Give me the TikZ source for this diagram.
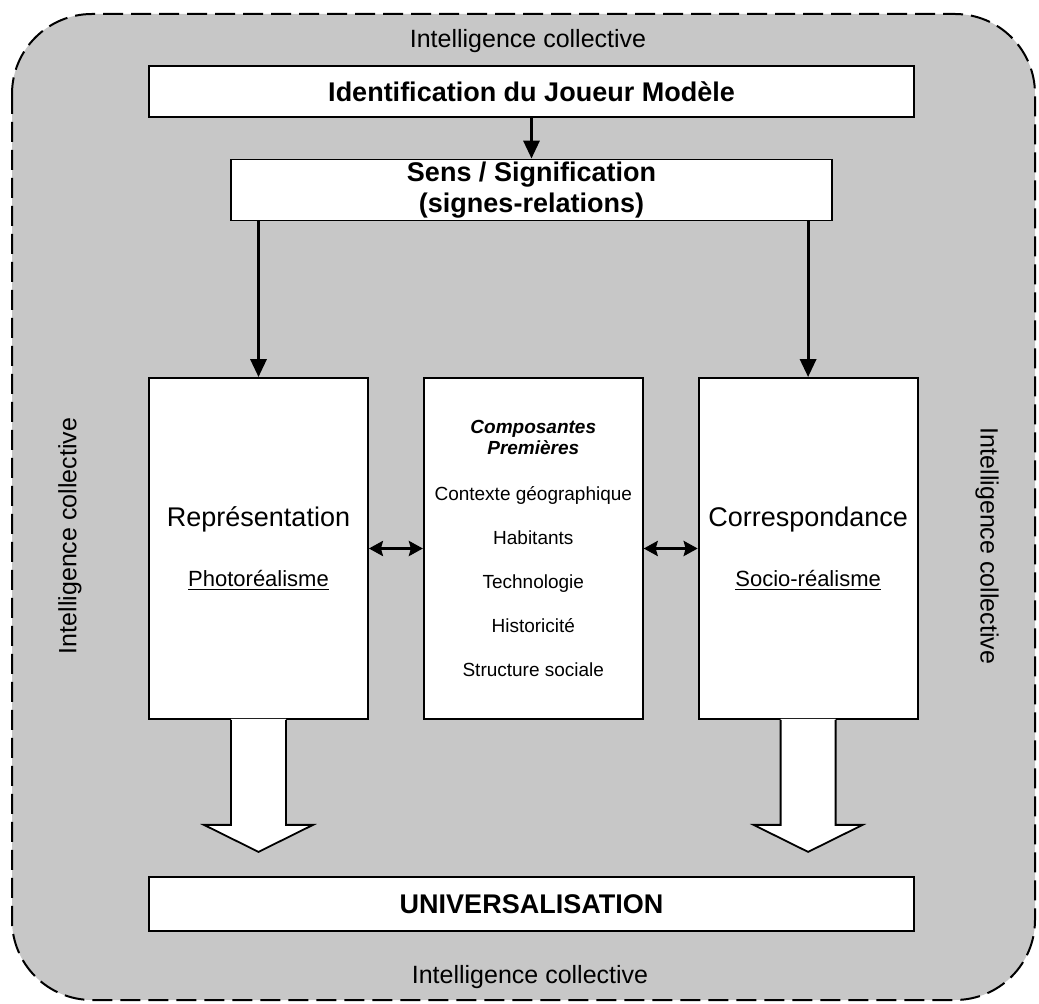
\documentclass[tikz,border=0pt]{standalone}
\usepackage{fontspec}
\setmainfont{Liberation Sans}
\usetikzlibrary{arrows.meta}
\usetikzlibrary{calc}
\usetikzlibrary{positioning}

\begin{document}
\begin{tikzpicture}[x=0.5pt,y=-0.5pt,
    box/.style={draw,fill=white,line width=0.9pt,minimum width=382.5pt,inner sep=0pt,align=center},
    column/.style={draw,fill=white,line width=0.9pt,minimum width=109.5pt,minimum height=170.5pt,inner sep=0pt,align=center},
    link/.style={line width=1.6pt,-{Triangle[length=9pt,width=8pt]}},
    twoway/.style={line width=1.8pt,{Stealth[length=7pt,width=7.5pt,inset=1pt]}-{Stealth[length=7pt,width=7.5pt,inset=1pt]}},
    ic/.style={font=\fontsize{12.5pt}{15pt}\selectfont},
    blockarrow/.style={draw,line width=0.9pt,line join=miter}]
          \useasboundingbox (0,0) rectangle (1039,1004);
          % fond
          \draw[fill=black!22,dash pattern=on 10pt off 4pt,line width=1pt,rounded corners=40pt] (12,14) rectangle (1035,1000);
          \node[ic] (icTop) at (528,41) {Intelligence collective};
          \node[ic] (icBottom) at (530,977) {Intelligence collective};
          \node[ic,rotate=90] (icLeft) at (70,536) {Intelligence collective};
          \node[ic,rotate=-90] (icRight) at (987,546) {Intelligence collective};
          % boites
          \node[box,minimum height=25.5pt,font=\bfseries\fontsize{13.5pt}{16pt}\selectfont] (joueur) at (531.5,91.5) {Identification du Joueur Modèle};
          \node[box,minimum width=300.5pt,minimum height=30.5pt,font=\bfseries\fontsize{13.5pt}{15.5pt}\selectfont] (sens) at (531.5,190) {Sens / Signification\\(signes-relations)};
          \node[column,font=\fontsize{13.5pt}{16pt}\selectfont] (repr) at (258.5,548.5) {Représentation\\[14pt]{\fontsize{11pt}{13pt}\selectfont\underline{Photoréalisme}}};
          \node[column,right=27pt of repr,font=\fontsize{9.5pt}{10.5pt}\selectfont] (compo) {\textbf{\textit{Composantes}}\\\textbf{\textit{Premières}}\\[12.5pt]Contexte géographique\\[11.5pt]Habitants\\[11.5pt]Technologie\\[11.5pt]Historicité\\[11.5pt]Structure sociale};
          \node[column,right=27pt of compo,font=\fontsize{13.5pt}{16pt}\selectfont] (corr) {Correspondance\\[14pt]{\fontsize{11pt}{13pt}\selectfont\underline{Socio-réalisme}}};
          \node[box,minimum height=27pt,font=\bfseries\fontsize{13.5pt}{16pt}\selectfont] (univ) at (531.5,904) {UNIVERSALISATION};
          % fleches
          \draw[link] (joueur) -- (sens);
          \draw[link] (sens.south -| repr.north) -- (repr);
          \draw[link] (sens.south -| corr.north) -- (corr);
          \draw[twoway] (repr) -- (compo);
          \draw[twoway] (compo) -- (corr);
          % grosses fleches vers le bas
          \fill[white] ($(repr.south)+(-27.5,-1)$) -- ++(0,106) -- ++(-27,0) -- ++(54.5,27) -- ++(54.5,-27) -- ++(-27,0) -- ++(0,-106) -- cycle;
          \draw[blockarrow] ($(repr.south)+(-27.5,0)$) -- ++(0,105) -- ++(-27,0) -- ++(54.5,27) -- ++(54.5,-27) -- ++(-27,0) -- ++(0,-105);
          \fill[white] ($(corr.south)+(-27.5,-1)$) -- ++(0,106) -- ++(-27,0) -- ++(54.5,27) -- ++(54.5,-27) -- ++(-27,0) -- ++(0,-106) -- cycle;
          \draw[blockarrow] ($(corr.south)+(-27.5,0)$) -- ++(0,105) -- ++(-27,0) -- ++(54.5,27) -- ++(54.5,-27) -- ++(-27,0) -- ++(0,-105);
        \end{tikzpicture}
\end{document}
